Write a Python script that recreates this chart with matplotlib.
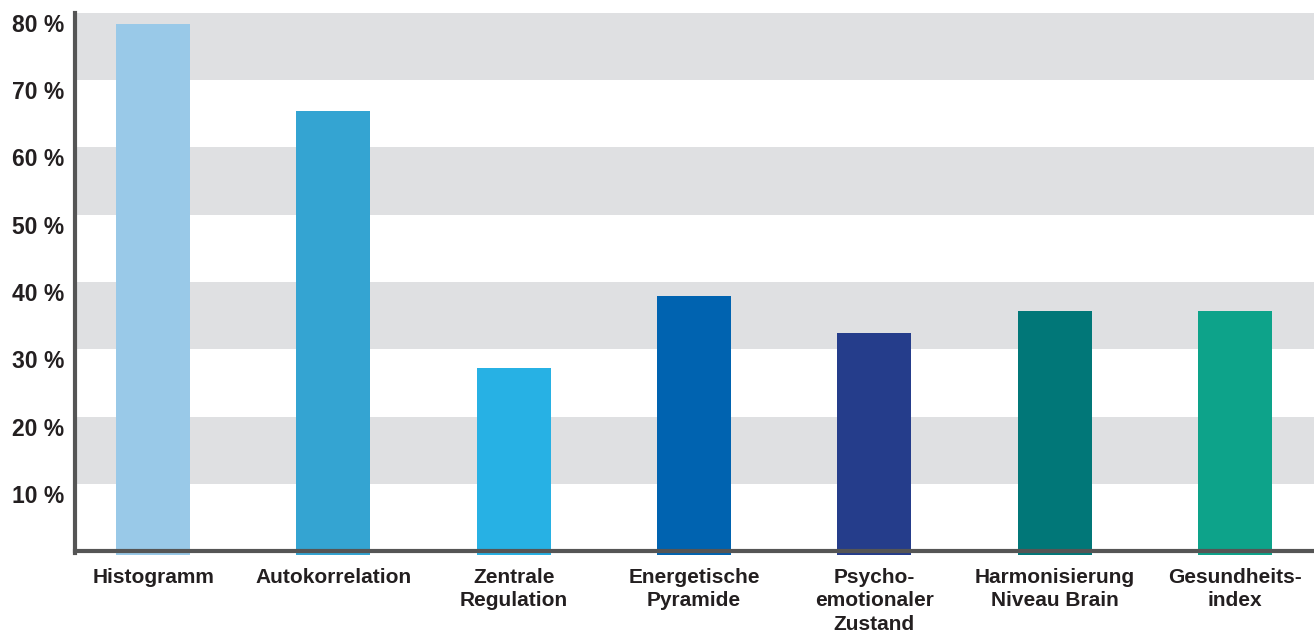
import matplotlib
matplotlib.use("Agg")
import matplotlib.pyplot as plt
import matplotlib.transforms as mtransforms

# chart data
categories = ["Histogramm", "Autokorrelation", "Zentrale\nRegulation", "Energetische\nPyramide",
              "Psycho-\nemotionaler\nZustand", "Harmonisierung\nNiveau Brain", "Gesundheits-\nindex"]
values = [78.4, 65.4, 27.2, 37.9, 32.4, 35.7, 35.7]
bar_colors = ["#99C9E8", "#34A4D2", "#27B1E4", "#0063B0", "#253D8B", "#017778", "#0DA38A"]
y_ticks = [10, 20, 30, 40, 50, 60, 70, 80]
y_labels = ["10 %", "20 %", "30 %", "40 %", "50 %", "60 %", "70 %", "80 %"]

plt.rcParams['font.family'] = ['Liberation Sans', 'DejaVu Sans']

fig = plt.figure(figsize=(13.14, 6.34), dpi=100)
ax = fig.add_axes([0.0571, 0.1203, 0.9429, 0.8592])

# alternating gray bands
for k in range(0, 80, 10):
    if (k // 10) % 2 == 1:
        ax.axhspan(k, k + 10, color="#DFE0E2", lw=0, zorder=0)

x = list(range(len(categories)))
ax.bar(x, [v + 0.6 for v in values], bottom=-0.6, width=0.41, color=bar_colors, zorder=2)

ax.set_xlim(-0.433, 6.438)
ax.set_ylim(-1, 80)

for s in ["top", "right"]:
    ax.spines[s].set_visible(False)
ax.spines["bottom"].set_position(("data", 0))
ax.spines["bottom"].set_color("#555555")
ax.spines["bottom"].set_linewidth(3)
ax.spines["bottom"].set_zorder(3)
ax.spines["left"].set_color("#555555")
ax.spines["left"].set_linewidth(3)
ax.spines["left"].set_bounds(-0.3, 80)

ax.set_xticks(x)
ax.set_xticklabels(categories, fontsize=15, fontweight="bold", color="#231F20", linespacing=1.32)
ax.set_yticks(y_ticks)
ax.set_yticklabels(y_labels, fontsize=16.5, fontweight="bold", color="#231F20")
ax.tick_params(axis="x", length=0, pad=12)
ax.tick_params(axis="y", length=0, pad=8)

offset = mtransforms.ScaledTranslation(0, -0.10, fig.dpi_scale_trans)
for lbl in ax.get_yticklabels():
    lbl.set_transform(lbl.get_transform() + offset)

fig.savefig("out.png", dpi=100)
